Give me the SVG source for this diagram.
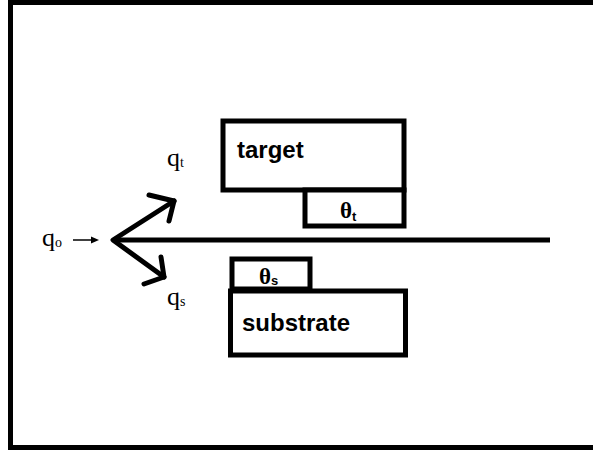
<svg xmlns="http://www.w3.org/2000/svg" width="593" height="451" viewBox="0 0 593 451">
  <style>
    .box { fill: #fff; stroke: #000; stroke-width: 5; }
    .lbl { font-family: "Liberation Sans", Arial, sans-serif; font-weight: bold; font-size: 24px; fill: #000; }
    .q { font-family: "Liberation Serif", "DejaVu Serif", serif; font-size: 26px; fill: #000; }
    .th { font-family: "Liberation Serif", "DejaVu Serif", serif; font-weight: bold; font-size: 23px; fill: #000; }
    .sub { font-family: "Liberation Sans", Arial, sans-serif; font-weight: bold; font-size: 13px; }
    .qsub { font-family: "Liberation Serif", "DejaVu Serif", serif; font-size: 14px; }
    .ray { fill: none; stroke: #000; stroke-width: 5; stroke-linecap: round; stroke-linejoin: round; }
  </style>
  <rect width="593" height="451" fill="#fff"/>
  <!-- outer frame (open on the right) -->
  <rect x="10.5" y="2.5" width="600" height="445" fill="none" stroke="#000" stroke-width="5"/>

  <g id="target">
    <rect class="box" x="223" y="121" width="181" height="69"/>
    <text class="lbl" x="237" y="158">target</text>
  </g>
  <g id="theta-t">
    <rect class="box" x="305" y="190" width="99" height="36"/>
    <text class="th" x="340" y="218">θ<tspan class="sub" dy="3">t</tspan></text>
  </g>
  <g id="theta-s">
    <rect class="box" x="232" y="259" width="78" height="30"/>
    <text class="th" x="259" y="284">θ<tspan class="sub" dy="1">s</tspan></text>
  </g>
  <g id="substrate">
    <rect class="box" x="230.5" y="291" width="175" height="64"/>
    <text class="lbl" x="242" y="331">substrate</text>
  </g>

  <g id="labels">
    <text class="q" x="42" y="246">q<tspan class="qsub" dy="1">o</tspan></text>
    <text class="q" x="167" y="166">q<tspan class="qsub" dy="1">t</tspan></text>
    <text class="q" x="167" y="305">q<tspan class="qsub" dy="1">s</tspan></text>
  </g>

  <g id="connectors">
    <!-- incoming beam marker -->
    <line x1="73" y1="240" x2="94" y2="240" stroke="#000" stroke-width="1.5"/>
    <polygon points="99,240 91,236.5 91,243.5" fill="#000"/>
    <!-- sample surface line -->
    <line x1="113" y1="240" x2="550" y2="240" stroke="#000" stroke-width="5"/>
    <!-- reflected rays -->
    <polyline class="ray" points="174,201 113,240 164,277"/>
    <polyline class="ray" points="149,195 174,201 169,221"/>
    <polyline class="ray" points="144,284 164,277 161,257"/>
  </g>
</svg>
